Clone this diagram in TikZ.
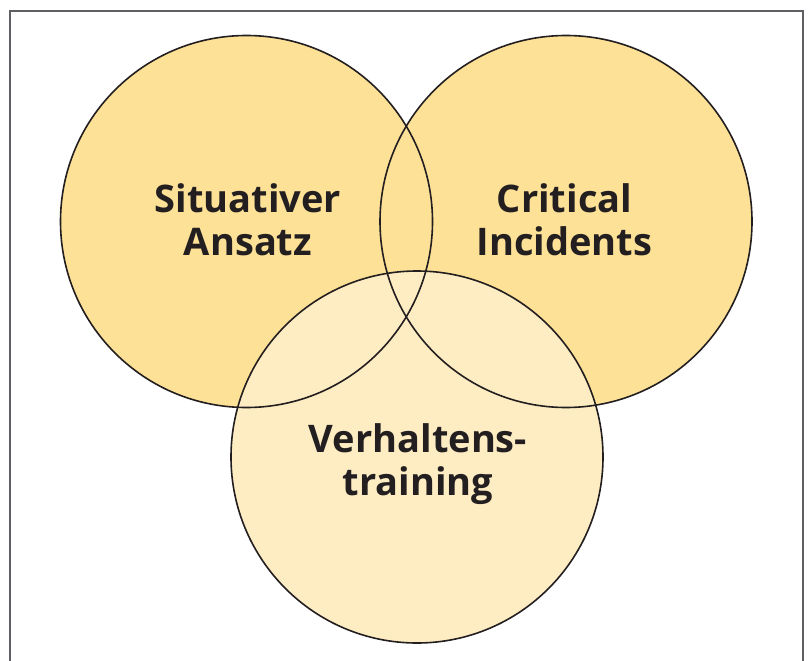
\documentclass[tikz,border=0pt]{standalone}
\usepackage{fontspec}
\setmainfont{Open Sans}
\usepackage{xcolor}
\definecolor{kreisgelb}{HTML}{FDE197}
\definecolor{kreishell}{HTML}{FEEDC3}
\definecolor{linie}{HTML}{231F20}
\definecolor{rahmen}{HTML}{5E5F62}
\tikzset{
  kreislinie/.style={draw=linie, line width=1.6pt},
  beschriftung/.style={align=center, text=linie, font=\fontsize{38}{43}\selectfont\bfseries}
}

\begin{document}
\begin{tikzpicture}[x=1pt, y=-1pt]
        \useasboundingbox (0,0) rectangle (809,661);
        % Rahmen (unten offen)
        \draw[rahmen, line width=2pt] (10,675) -- (10,11) -- (803,11) -- (803,675);
        % Mittelpunkte der drei Kreise
        \coordinate (mSit) at (246.5,221.5);
        \coordinate (mCrit) at (566,221.5);
        \coordinate (mVerh) at (417,457);
        % Flaechen: oben zwei gelbe, unten ein heller Kreis
        \fill[kreisgelb] (mSit) circle[radius=186pt];
        \fill[kreisgelb] (mCrit) circle[radius=186pt];
        \fill[kreishell] (mVerh) circle[radius=186pt];
        % Umrisse zuletzt, damit alle Linien sichtbar bleiben
        \draw[kreislinie] (mSit) circle[radius=186pt];
        \draw[kreislinie] (mCrit) circle[radius=186pt];
        \draw[kreislinie] (mVerh) circle[radius=186pt];
        % Beschriftungen
        \node[beschriftung] (sit) at (248,219.5) {Situativer\\Ansatz};
        \node[beschriftung] (crit) at (564.5,219.5) {Critical\\Incidents};
        \node[beschriftung] (verh) at (418,464) {Verhaltens-\\training};
    \end{tikzpicture}
\end{document}
